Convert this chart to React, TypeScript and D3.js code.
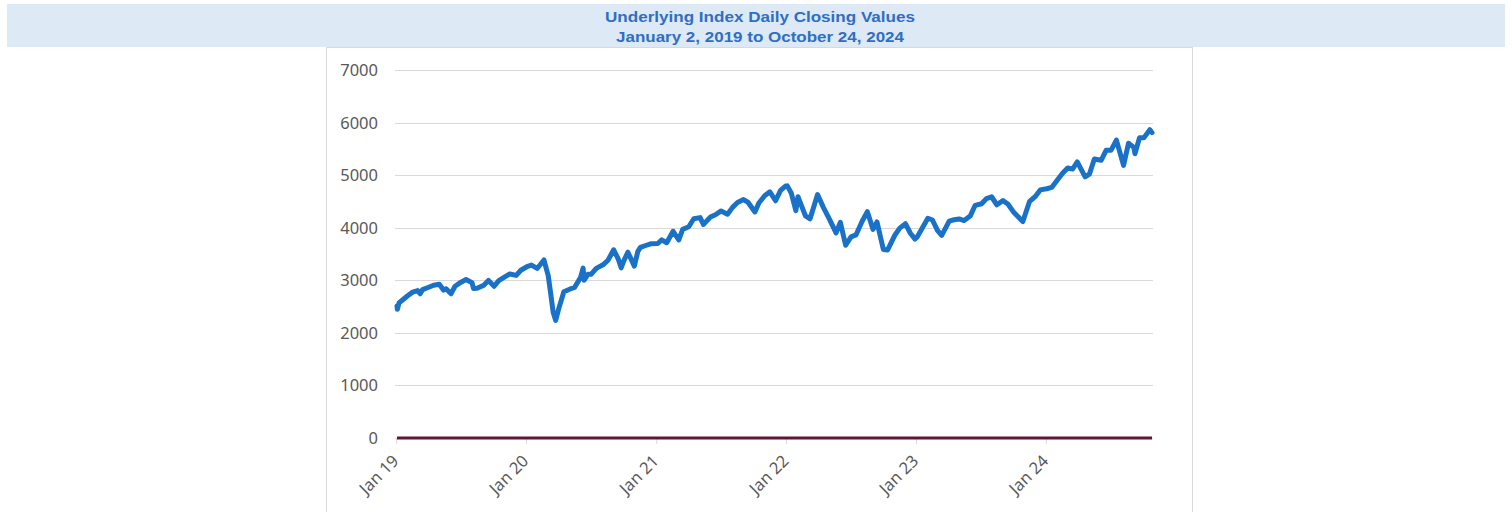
import * as d3 from 'd3';
import { useEffect, useRef } from 'react';

const titleLines = ['Underlying Index Daily Closing Values', 'January 2, 2019 to October 24, 2024'];

const closeDates = [
  '2019-01-02', '2019-01-03', '2019-01-08', '2019-01-15', '2019-02-01', '2019-02-15', '2019-03-01', '2019-03-08',
  '2019-03-15', '2019-04-01', '2019-04-15', '2019-05-01', '2019-05-13', '2019-05-20', '2019-06-03', '2019-06-14',
  '2019-07-01', '2019-07-15', '2019-08-01', '2019-08-05', '2019-08-15', '2019-09-03', '2019-09-16', '2019-10-02',
  '2019-10-15', '2019-11-01', '2019-11-15', '2019-12-03', '2019-12-16',
  '2020-01-02', '2020-01-15', '2020-01-31', '2020-02-19', '2020-03-02', '2020-03-09', '2020-03-16', '2020-03-23',
  '2020-04-01', '2020-04-15', '2020-05-01', '2020-05-15', '2020-06-01', '2020-06-08', '2020-06-11', '2020-06-22',
  '2020-07-01', '2020-07-15', '2020-08-03', '2020-08-17', '2020-09-02', '2020-09-15', '2020-09-23', '2020-10-01',
  '2020-10-12', '2020-10-30', '2020-11-09', '2020-11-16', '2020-12-01', '2020-12-15',
  '2021-01-04', '2021-01-15', '2021-01-29', '2021-02-16', '2021-03-04', '2021-03-15', '2021-04-01', '2021-04-15',
  '2021-05-03', '2021-05-12', '2021-06-01', '2021-06-15', '2021-07-01', '2021-07-19', '2021-08-02', '2021-08-16',
  '2021-09-02', '2021-09-15', '2021-10-04', '2021-10-15', '2021-11-01', '2021-11-15', '2021-12-01', '2021-12-15',
  '2021-12-29',
  '2022-01-03', '2022-01-14', '2022-01-27', '2022-02-02', '2022-02-23', '2022-03-08', '2022-03-29', '2022-04-14',
  '2022-05-02', '2022-05-20', '2022-06-01', '2022-06-16', '2022-07-01', '2022-07-15', '2022-08-01', '2022-08-16',
  '2022-09-01', '2022-09-12', '2022-09-30', '2022-10-12', '2022-11-01', '2022-11-15', '2022-12-01', '2022-12-15',
  '2022-12-28',
  '2023-01-03', '2023-01-17', '2023-02-02', '2023-02-15', '2023-03-01', '2023-03-13', '2023-04-03', '2023-04-17',
  '2023-05-01', '2023-05-15', '2023-06-01', '2023-06-15', '2023-07-03', '2023-07-17', '2023-07-31', '2023-08-15',
  '2023-09-01', '2023-09-15', '2023-10-02', '2023-10-27', '2023-11-15', '2023-12-01', '2023-12-15',
  '2024-01-02', '2024-01-16', '2024-02-01', '2024-02-15', '2024-03-01', '2024-03-15', '2024-03-28', '2024-04-19',
  '2024-05-01', '2024-05-15', '2024-06-03', '2024-06-17', '2024-07-01', '2024-07-16', '2024-08-05', '2024-08-19',
  '2024-09-03', '2024-09-06', '2024-09-19', '2024-10-01', '2024-10-18', '2024-10-24',
];

const closeValues = [
  2510, 2448, 2574, 2610, 2706, 2775, 2803, 2743,
  2822, 2867, 2905, 2923, 2812, 2840, 2745, 2887,
  2964, 3014, 2953, 2845, 2847, 2906, 2998, 2887,
  2995, 3066, 3120, 3093, 3191,
  3258, 3289, 3225, 3386, 3090, 2746, 2386, 2237,
  2470, 2783, 2830, 2863, 3055, 3232, 3002, 3117,
  3115, 3226, 3294, 3381, 3580, 3401, 3237, 3380,
  3534, 3270, 3550, 3626, 3662, 3694,
  3700, 3768, 3714, 3932, 3768, 3968, 4019, 4170,
  4192, 4063, 4202, 4246, 4319, 4258, 4387, 4479,
  4536, 4480, 4300, 4471, 4613, 4682, 4513, 4709,
  4793,
  4796, 4662, 4326, 4589, 4225, 4170, 4631, 4392,
  4155, 3901, 4101, 3666, 3825, 3863, 4118, 4305,
  3967, 4110, 3586, 3577, 3856, 3992, 4076, 3895,
  3783,
  3825, 3990, 4180, 4147, 3951, 3855, 4125, 4151,
  4167, 4136, 4221, 4426, 4455, 4554, 4589, 4437,
  4515, 4450, 4288, 4117, 4502, 4594, 4719,
  4742, 4766, 4906, 5030, 5137, 5117, 5254, 4967,
  5018, 5308, 5283, 5473, 5475, 5667, 5186, 5608,
  5528, 5408, 5713, 5709, 5864, 5809,
];

const floorValue = 0;
const yTicks = [0, 1000, 2000, 3000, 4000, 5000, 6000, 7000];
const xTickDates = ['2019-01-01', '2020-01-01', '2021-01-01', '2022-01-01', '2023-01-01', '2024-01-01'];
const xTickLabels = ['Jan 19', 'Jan 20', 'Jan 21', 'Jan 22', 'Jan 23', 'Jan 24'];

const App = () => {
  const ref = useRef<SVGSVGElement | null>(null);

  useEffect(() => {
    if (!ref.current) return;
    const svg = d3.select(ref.current);
    svg.selectAll('*').remove();

    const parse = d3.timeParse('%Y-%m-%d');
    const data = closeDates.map((d, i) => ({ date: parse(d)!, value: closeValues[i] }));

    // banner
    svg.append('rect')
      .attr('x', 7).attr('y', 4).attr('width', 1498).attr('height', 43)
      .attr('fill', '#dde9f4');
    const titleWidths = [310, 288];
    titleLines.forEach((t, i) => {
      svg.append('text')
        .attr('x', 760).attr('y', 21.5 + i * 20)
        .attr('text-anchor', 'middle')
        .attr('textLength', titleWidths[i])
        .attr('lengthAdjust', 'spacingAndGlyphs')
        .style('font-family', '"Liberation Sans", Arial, sans-serif')
        .style('font-weight', 'bold')
        .style('font-size', '15.5px')
        .attr('fill', '#2f6ec6')
        .text(t);
    });

    // chart frame
    svg.append('rect')
      .attr('x', 326.5).attr('y', 47.5).attr('width', 866).attr('height', 480)
      .attr('fill', '#fff').attr('stroke', '#d9d9d9');

    const x = d3.scaleTime()
      .domain([parse('2019-01-02')!, parse('2024-10-24')!])
      .range([397, 1152]);
    const y = d3.scaleLinear().domain([0, 7000]).range([438, 70]);

    // gridlines
    svg.append('g')
      .selectAll('line')
      .data(yTicks)
      .enter().append('line')
      .attr('x1', 395).attr('x2', 1153)
      .attr('y1', d => Math.round(y(d)) + 0.5).attr('y2', d => Math.round(y(d)) + 0.5)
      .attr('stroke', '#d9d9d9');

    svg.append('g')
      .selectAll('text')
      .data(yTicks)
      .enter().append('text')
      .attr('x', 378).attr('y', d => y(d) + 6)
      .attr('text-anchor', 'end')
      .style('font-family', '"Noto Sans", sans-serif')
      .style('font-size', '16.5px')
      .attr('fill', '#595959')
      .text(d => d3.format('d')(d));

    // x ticks and labels
    const xt = svg.append('g');
    xTickDates.forEach((d, i) => {
      const px = x(parse(d)!);
      xt.append('line')
        .attr('x1', px).attr('x2', px).attr('y1', 438).attr('y2', 444)
        .attr('stroke', '#d9d9d9');
      xt.append('text')
        .attr('transform', `translate(${px + 3},${462}) rotate(-45)`)
        .attr('text-anchor', 'end')
        .style('font-family', '"Noto Sans", sans-serif')
        .style('font-size', '16.5px')
        .attr('fill', '#595959')
        .text(xTickLabels[i]);
    });

    // floor series
    svg.append('path')
      .datum(data)
      .attr('fill', 'none')
      .attr('stroke', '#5e1736')
      .attr('stroke-width', 3)
      .attr('d', d3.line<{ date: Date; value: number }>().x(d => x(d.date)).y(() => y(floorValue)));

    // index line
    svg.append('path')
      .datum(data)
      .attr('fill', 'none')
      .attr('stroke', '#1a72c8')
      .attr('stroke-width', 5)
      .attr('stroke-linejoin', 'round')
      .attr('stroke-linecap', 'round')
      .attr('d', d3.line<{ date: Date; value: number }>().x(d => x(d.date)).y(d => y(d.value)));
  }, []);

  return (
    <svg ref={ref} width={1512} height={512} style={{ position: 'absolute', left: 0, top: 0, background: '#fff' }} />
  );
};

export default App;
